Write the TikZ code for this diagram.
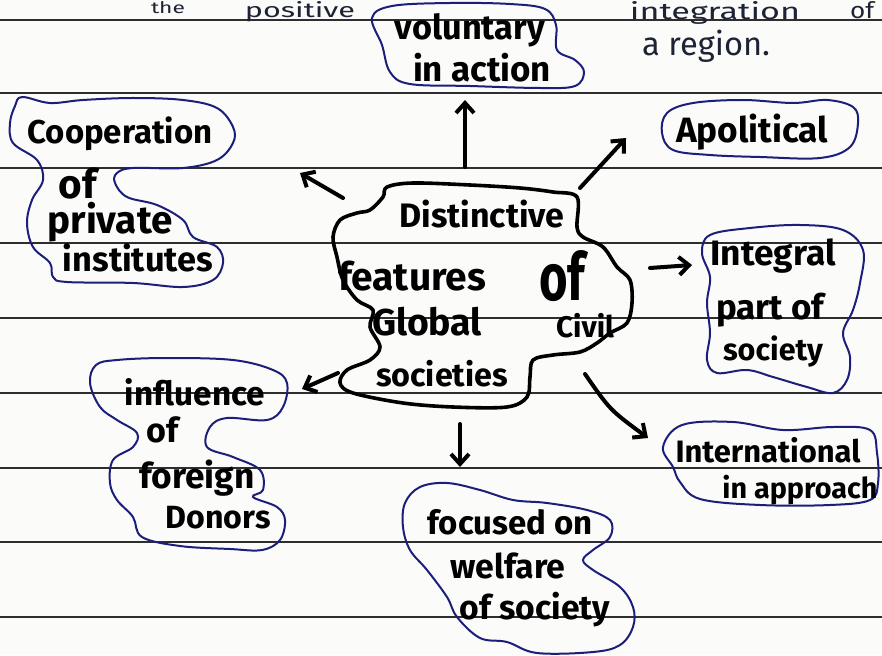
\documentclass[tikz,border=0pt]{standalone}
\usepackage{fontspec}
\setmainfont{Fira Sans}
\usetikzlibrary{arrows.meta}
\definecolor{ink}{HTML}{1B1F7A}
\definecolor{pen}{HTML}{1E2235}
\definecolor{rule}{HTML}{2E2E2E}
\definecolor{paper}{HTML}{FBFBFA}
\newcommand{\hw}[2]{\resizebox{#1pt}{!}{#2}}
\tikzset{
  hand/.style={font=\bfseries, inner sep=0pt, text=black},
  penword/.style={font=\normalfont, inner sep=0pt, text=pen},
  blob/.style={draw=ink, line width=2pt},
  centerblob/.style={draw=black, line width=3.6pt, line join=round},
  ruled/.style={draw=rule, line width=1.5pt},
  arr/.style={draw=black, line width=4pt, line cap=round,
    -{Straight Barb[length=10pt,width=18pt,line width=4pt]}}
}
\begin{document}
\begin{tikzpicture}[x=1pt,y=-1pt]
\useasboundingbox (0,0) rectangle (882,655);
\clip (0,0) rectangle (882,655);
\fill[paper] (0,0) rectangle (882,655);
% ruled lines
\foreach \yy in {20,93,168,243,318,393,468,542,617}
  \draw[ruled] (0,\yy) -- (882,\yy);

% notes from the page above, along the top edge
\node[penword, anchor=north] (nthe) at (168,1) {\resizebox{34pt}{12pt}{the}};
\node[penword, anchor=north] (npos) at (300,1) {\resizebox{110pt}{16pt}{positive}};
\node[penword, anchor=north] (nint) at (715,1) {\resizebox{170pt}{18pt}{integration}};
\node[penword, anchor=north] (nof) at (862,1) {\resizebox{24pt}{17pt}{of}};
\node[penword] (region) at (706,46) {\hw{128}{a region.}};

% blobs
\draw[blob] plot[smooth cycle, tension=0.6] coordinates {
 (372,18) (392,6) (450,3) (510,4) (545,9) (556,25) (557,50) (575,60)
 (584,72) (575,86) (540,88) (470,86) (410,84) (390,72) (382,45)};
\draw[blob] plot[smooth cycle, tension=0.6] coordinates {
 (22,97) (50,103) (83,100) (133,98) (183,100) (217,108) (233,127) (233,143)
 (217,160) (183,168) (133,168) (117,173) (115,183) (127,197) (157,205)
 (183,220) (193,237) (217,247) (223,263) (213,280) (183,287) (133,283)
 (67,282) (53,277) (50,263) (33,247) (27,223) (32,200) (43,180) (37,160)
 (13,143) (10,123) (15,106)};
\draw[blob] plot[smooth cycle, tension=0.6] coordinates {
 (667,113) (693,103) (743,100) (793,103) (827,100) (853,107) (858,123)
 (850,147) (820,158) (760,157) (710,155) (673,150) (662,133)};
\draw[blob] plot[smooth cycle, tension=0.6] coordinates {
 (710,235) (750,228) (800,225) (843,230) (863,250) (860,283) (853,310)
 (843,333) (850,357) (847,380) (833,393) (807,387) (773,377) (747,370)
 (717,373) (707,360) (710,333) (707,303) (710,277) (702,253)};
\draw[blob] plot[smooth cycle, tension=0.6] coordinates {
 (117,360) (167,358) (233,360) (273,370) (287,383) (283,407) (267,420)
 (227,418) (210,427) (207,447) (233,457) (260,470) (263,490) (253,497)
 (277,507) (285,520) (280,540) (262,550) (230,549) (180,546) (142,537)
 (133,517) (117,500) (110,483) (113,460) (133,447) (137,433) (117,420)
 (100,407) (90,383) (96,365)};
\draw[blob] plot[smooth cycle, tension=0.6] coordinates {
 (682,425) (733,422) (783,430) (833,427) (870,430) (877,453) (878,483)
 (870,500) (830,505) (760,505) (700,499) (680,482) (673,467) (663,447)};
\draw[blob] plot[smooth cycle, tension=0.6] coordinates {
 (420,487) (447,483) (480,490) (513,500) (547,503) (587,510) (610,520)
 (610,537) (593,550) (583,560) (593,570) (620,587) (633,607) (633,627)
 (620,645) (593,652) (537,653) (507,642) (480,638) (457,617) (447,597)
 (427,570) (410,550) (403,527) (405,503)};
\draw[centerblob] plot[smooth cycle, tension=0.55] coordinates {
 (387,187) (413,183) (470,185) (520,188) (553,192) (577,197) (577,227)
 (583,237) (603,247) (617,267) (630,280) (632,303) (627,323) (610,333)
 (597,343) (580,352) (553,355) (533,360) (530,377) (527,397) (507,407)
 (453,407) (403,403) (353,393) (340,383) (347,370) (370,360) (380,347)
 (370,327) (373,310) (357,300) (343,280) (337,257) (333,237) (340,220)
 (357,213) (370,210) (383,197)};

% central text
\node[hand] (c1) at (482,214) {\hw{165}{Distinctive}};
\node[hand] (c2) at (412,276) {\hw{148}{features}};
\node[hand] (c3) at (562,276) {\resizebox{46pt}{50pt}{of}};
\node[hand] (c4) at (427,322) {\hw{110}{Global}};
\node[hand] (c5) at (585,326) {\hw{58}{Civil}};
\node[hand] (c6) at (442,374) {\hw{132}{societies}};

% satellite texts
\node[hand] (v1) at (470,30) {\hw{150}{voluntary}};
\node[hand] (v2) at (482,68) {\hw{138}{in action}};

\node[hand] (k1) at (120,134) {\hw{185}{Cooperation}};
\node[hand] (k2) at (78,183) {\hw{38}{of}};
\node[hand] (k3) at (110,222) {\hw{125}{private}};
\node[hand] (k4) at (138,258) {\hw{150}{institutes}};

\node[hand] (ap) at (752,132) {\hw{152}{Apolitical}};

\node[hand] (g1) at (773,256) {\hw{125}{Integral}};
\node[hand] (g2) at (770,310) {\hw{108}{part of}};
\node[hand] (g3) at (773,352) {\hw{100}{society}};

\node[hand] (f1) at (195,392) {\hw{140}{influence}};
\node[hand] (f2) at (163,430) {\hw{32}{of}};
\node[hand] (f3) at (197,478) {\hw{115}{foreign}};
\node[hand] (f4) at (218,518) {\hw{105}{Donors}};

\node[hand] (i1) at (768,450) {\hw{185}{International}};
\node[hand] (i2) at (800,490) {\hw{155}{in approach}};

\node[hand] (w1) at (510,522) {\hw{165}{focused on}};
\node[hand] (w2) at (508,566) {\hw{115}{welfare}};
\node[hand] (w3) at (535,610) {\hw{150}{of society}};

% arrow end points
\coordinate (upA) at (465,167);   \coordinate (upB) at (465,100);
\coordinate (coA) at (343,198);   \coordinate (coB) at (300,173);
\coordinate (apA) at (580,188);   \coordinate (apB) at (626,138);
\coordinate (inA) at (650,268);   \coordinate (inB) at (692,265);
\coordinate (flA) at (338,373);   \coordinate (flB) at (302,389);
\coordinate (dnA) at (460,424);   \coordinate (dnB) at (460,467);
\coordinate (itA) at (585,374);   \coordinate (itB) at (648,438);

\draw[arr] (upA) -- (upB);
\draw[arr] (coA) -- (coB);
\draw[arr] (apA) -- (apB);
\draw[arr] (inA) -- (inB);
\draw[arr] (flA) -- (flB);
\draw[arr] (dnA) -- (dnB);
\draw[arr] (itA) .. controls (610,410) .. (itB);
\end{tikzpicture}
\end{document}
